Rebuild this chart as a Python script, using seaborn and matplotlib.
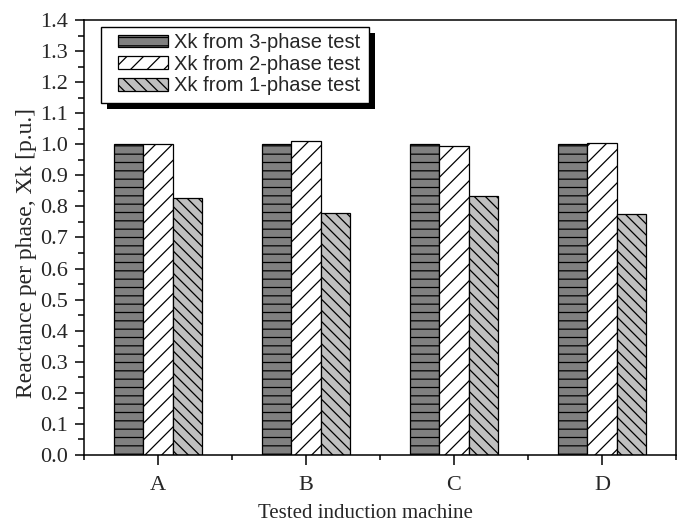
"""Bar chart: reactance per phase Xk from 3-, 2- and 1-phase tests."""

import matplotlib
matplotlib.use('Agg')
import matplotlib.pyplot as plt
from matplotlib.patches import Rectangle
from matplotlib.ticker import MultipleLocator, FixedLocator
import pandas as pd
import seaborn as sns

# Datos
machines = ['A', 'B', 'C', 'D']
series = ['Xk from 3-phase test', 'Xk from 2-phase test', 'Xk from 1-phase test']
xk_3phase = [1.000, 1.000, 1.000, 1.000]
xk_2phase = [1.000, 1.012, 0.995, 1.004]
xk_1phase = [0.828, 0.780, 0.835, 0.775]

colors = ['#808080', '#ffffff', '#c0c0c0']
hatches = ['--', '//', '\\\\\\']

df = pd.DataFrame({
    'machine': machines * 3,
    'test': [s for s in series for _ in machines],
    'xk': xk_3phase + xk_2phase + xk_1phase,
})

sns.set_style('ticks')
plt.rcParams['font.family'] = ['Liberation Serif', 'DejaVu Serif']
plt.rcParams['hatch.linewidth'] = 0.9
plt.rcParams['hatch.color'] = 'black'

W, H = 686, 525
fig = plt.figure(figsize=(W / 100, H / 100), dpi=100)
ax = fig.add_axes([84 / W, 70 / H, 592 / W, 435 / H])

sns.barplot(data=df, x='machine', y='xk', hue='test', hue_order=series,
            palette=dict(zip(series, colors)), width=0.6, gap=0,
            edgecolor='black', linewidth=0.9, saturation=1, legend=False, ax=ax)

for cont, h in zip(ax.containers, hatches):
    for p in cont.patches:
        p.set_hatch(h)

ax.set_xlim(-0.5, 3.5)
ax.set_ylim(0, 1.4)
ax.yaxis.set_major_locator(MultipleLocator(0.1))
ax.yaxis.set_minor_locator(MultipleLocator(0.05))
ax.yaxis.set_major_formatter(plt.FormatStrFormatter('%.1f'))
ax.xaxis.set_minor_locator(FixedLocator([-0.5, 0.5, 1.5, 2.5, 3.5]))

for s in ax.spines.values():
    s.set_visible(True)
    s.set_linewidth(1.1)
    s.set_color('black')

ax.tick_params(axis='both', which='both', direction='out', width=1.1, color='black',
               top=False, right=False)
ax.tick_params(axis='y', which='major', length=6.5, pad=5, labelsize=16)
ax.tick_params(axis='y', which='minor', length=4)
ax.tick_params(axis='x', which='major', length=7, pad=8, labelsize=16)
ax.tick_params(axis='x', which='minor', length=3.5)

ax.set_xlabel('Tested induction machine', fontsize=15)
ax.set_ylabel('Reactance per phase, Xk [p.u.]', fontsize=17)
ax.xaxis.set_label_coords(0.475, -0.113)
ax.yaxis.set_label_coords(-0.079, 0.464)

# Leyenda sin marco; el marco y la sombra se dibujan aparte
leg = ax.legend(ax.containers, series, loc='upper left',
                bbox_to_anchor=(118 / W, 1 - 33 / H), bbox_transform=fig.transFigure,
                prop={'family': 'Liberation Sans', 'size': 14.5},
                frameon=False, borderpad=0, borderaxespad=0,
                handlelength=2.5, handleheight=0.6, handletextpad=0.3,
                labelspacing=0.13)

fig.canvas.draw()
bb = leg.get_window_extent()
fx0, fx1 = bb.x0 - 17, bb.x1 + 8
fy0, fy1 = bb.y0 - 8, bb.y1 + 6
ax.add_patch(Rectangle((fx0 + 6, fy0 - 6), fx1 - fx0, fy1 - fy0, transform=None,
                       facecolor='black', edgecolor='none', zorder=4, clip_on=False))
ax.add_patch(Rectangle((fx0, fy0), fx1 - fx0, fy1 - fy0, transform=None,
                       facecolor='white', edgecolor='black', linewidth=1.0,
                       zorder=4.5, clip_on=False))

fig.savefig('out.png', dpi=100)
plt.close(fig)
